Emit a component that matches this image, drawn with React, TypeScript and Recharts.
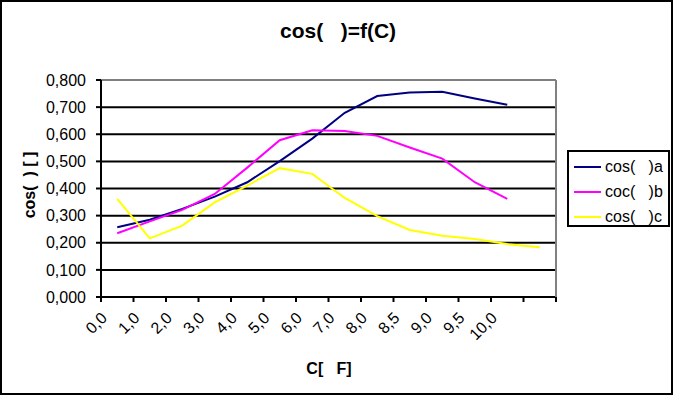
import { LineChart, Line, XAxis, YAxis, CartesianGrid, ReferenceLine } from 'recharts';

// category labels (last slot has no label)
const categories = ['0,0', '1,0', '2,0', '3,0', '4,0', '5,0', '6,0', '7,0', '8,0', '8,5', '9,0', '9,5', '10,0', ''];

const seriesA = [0.257, 0.285, 0.325, 0.37, 0.423, 0.501, 0.584, 0.679, 0.741, 0.754, 0.757, 0.732, 0.709, null];
const seriesB = [0.235, 0.279, 0.321, 0.38, 0.477, 0.578, 0.615, 0.612, 0.594, 0.551, 0.51, 0.423, 0.362, null];
const seriesC = [0.362, 0.216, 0.263, 0.349, 0.411, 0.475, 0.454, 0.365, 0.298, 0.247, 0.226, 0.214, 0.195, 0.183];

const yTicks = [0, 0.1, 0.2, 0.3, 0.4, 0.5, 0.6, 0.7, 0.8];
const xBoundaries = Array.from({ length: categories.length + 1 }, (_, i) => i);

const names = ['cos(   )a', 'coc(   )b', 'cos(   )c'];
const colors = ['#000080', '#ff00ff', '#ffff00'];

// points sit in the middle of each category slot
const data = categories.map((label, i) => ({
  pos: i + 0.5,
  label,
  a: seriesA[i],
  b: seriesB[i],
  c: seriesC[i]
}));

const font = '"Liberation Sans", Arial, sans-serif';

const XTick = (props: any) => {
  const { x, y, payload } = props;
  const text = categories[payload.value] ?? '';
  if (!text) return null;
  const tx = x + 7;
  const ty = y + 14;
  return (
    <text x={tx} y={ty} transform={`rotate(-45, ${tx}, ${ty})`} textAnchor="end" fontSize={16} fontFamily={font} fill="#000">
      {text}
    </text>
  );
};

export default function App() {
  return (
    <div style={{ position: 'relative', width: 675, height: 396, fontFamily: font, background: '#fff' }}>
      <style>{'body{margin:0}'}</style>
      <div style={{ position: 'absolute', left: 0, top: 0, width: 673, height: 395, border: '2px solid #000', boxSizing: 'border-box' }} />
      <LineChart width={675} height={396} data={data} margin={{ top: 80, right: 118, left: 0, bottom: 0 }}>
        <CartesianGrid vertical={false} stroke="#000" strokeWidth={2} />
        <XAxis
          dataKey="pos"
          type="number"
          domain={[0, categories.length]}
          ticks={xBoundaries}
          interval={0}
          height={99}
          axisLine={{ stroke: '#000', strokeWidth: 2 }}
          tickLine={{ stroke: '#000', strokeWidth: 2 }}
          tickSize={5}
          tickMargin={3}
          tick={<XTick />}
        />
        <YAxis
          domain={[0, 0.8]}
          ticks={yTicks}
          interval={0}
          width={101}
          axisLine={{ stroke: '#000', strokeWidth: 2 }}
          tickLine={{ stroke: '#000', strokeWidth: 2 }}
          tickSize={5}
          tickMargin={10}
          tick={{ fontSize: 16, fill: '#000', fontFamily: font }}
          tickFormatter={(v: number) => v.toFixed(3).replace('.', ',')}
        />
        <YAxis
          yAxisId="r"
          orientation="right"
          width={1}
          tick={false}
          tickLine={false}
          axisLine={{ stroke: '#808080', strokeWidth: 2 }}
        />
        <ReferenceLine y={0.8} stroke="#808080" strokeWidth={2} />
        <Line type="linear" dataKey="a" stroke={colors[0]} strokeWidth={2} dot={false} isAnimationActive={false} />
        <Line type="linear" dataKey="b" stroke={colors[1]} strokeWidth={2} dot={false} isAnimationActive={false} />
        <Line type="linear" dataKey="c" stroke={colors[2]} strokeWidth={2} dot={false} isAnimationActive={false} />
      </LineChart>

      <div
        style={{
          position: 'absolute',
          left: 338,
          top: 31,
          transform: 'translate(-50%, -50%)',
          fontWeight: 'bold',
          fontSize: 21,
          whiteSpace: 'pre'
        }}
      >
        cos(   )=f(C)
      </div>
      <div
        style={{
          position: 'absolute',
          left: 30,
          top: 185,
          transform: 'translate(-50%, -50%) rotate(-90deg)',
          fontWeight: 'bold',
          fontSize: 16,
          whiteSpace: 'pre'
        }}
      >
        cos(  ) [ ]
      </div>
      <div
        style={{
          position: 'absolute',
          left: 329,
          top: 369,
          transform: 'translate(-50%, -50%)',
          fontWeight: 'bold',
          fontSize: 16,
          whiteSpace: 'pre'
        }}
      >
        C[   F]
      </div>

      <div
        style={{
          position: 'absolute',
          left: 567,
          top: 150,
          width: 103,
          height: 77,
          border: '2px solid #000',
          boxSizing: 'border-box',
          padding: '2px 0 0 5px'
        }}
      >
        {names.map((n, i) => (
          <div key={n} style={{ display: 'flex', alignItems: 'center', height: 25, fontSize: 16, whiteSpace: 'pre' }}>
            <div style={{ width: 27, height: 2, background: colors[i], marginRight: 4 }} />
            <span>{n}</span>
          </div>
        ))}
      </div>
    </div>
  );
}
